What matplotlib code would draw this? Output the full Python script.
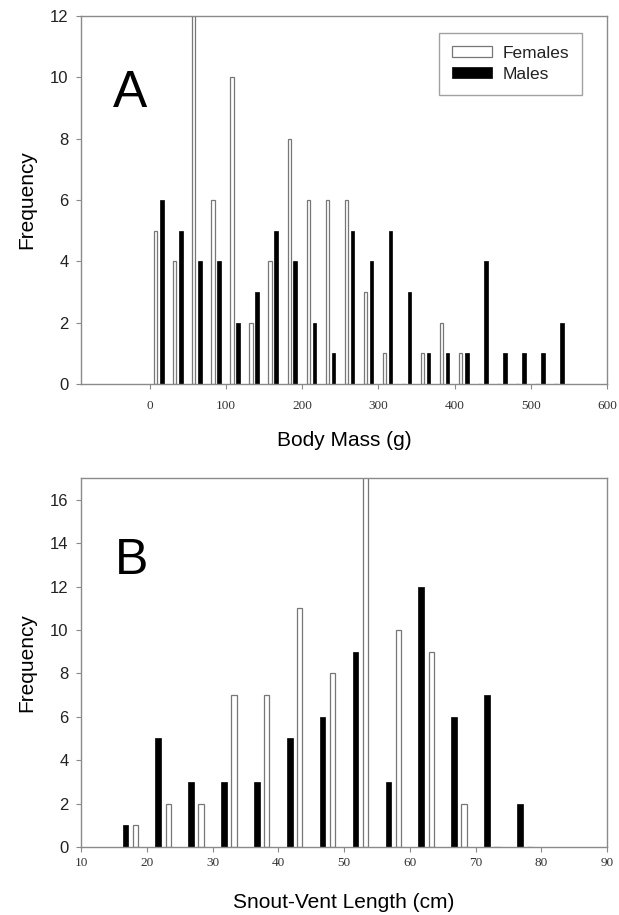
import numpy as np
import matplotlib
matplotlib.use("Agg")
import matplotlib.pyplot as plt

# =========================
# data
# =========================
mass_bins = np.arange(12.5, 550, 25)          # 25 g bins, centres
mass_females = [5, 4, 13, 6, 10, 2, 4, 8, 6, 6, 6, 3, 1, 0, 1, 2, 1, 0, 0, 0, 0, 0]
mass_males = [6, 5, 4, 4, 2, 3, 5, 4, 2, 1, 5, 4, 5, 3, 1, 1, 1, 4, 1, 1, 1, 2]

svl_bins = np.arange(17.5, 80, 5)             # 5 cm bins, centres
svl_females = [1, 2, 2, 7, 7, 11, 8, 18, 10, 9, 2, 0, 0]
svl_males = [1, 5, 3, 3, 3, 5, 6, 9, 3, 12, 6, 7, 2]

plt.rcParams['font.family'] = ['Liberation Sans', 'DejaVu Sans']
GRAY = "#8a8a8a"

fig = plt.figure(figsize=(6.19, 9.15), dpi=100)
axA = fig.add_axes([0.1309, 0.5803, 0.8498, 0.4022])
axB = fig.add_axes([0.1309, 0.0743, 0.8498, 0.4033])


def style_axis(ax, xpad):
    for sp in ax.spines.values():
        sp.set_color(GRAY)
        sp.set_linewidth(1.0)
    ax.tick_params(axis="both", direction="out", length=3.5, width=0.8, color=GRAY)
    ax.tick_params(axis="y", labelsize=12, labelcolor="#222222", pad=5.5)
    ax.tick_params(axis="x", pad=xpad)
    for lab in ax.get_xticklabels():
        lab.set_fontfamily("Liberation Serif")
        lab.set_fontsize(9.5)
        lab.set_color("#333333")


# --- panel A: body mass ---
axA.bar(mass_bins - 4.5, mass_females, width=4.2, color="white",
        edgecolor="#777777", linewidth=0.9, label="Females")
axA.bar(mass_bins + 3.5, mass_males, width=4.6, color="black",
        edgecolor="black", linewidth=0.5, label="Males")
axA.set_xlim(-90, 600)
axA.set_ylim(0, 12)
axA.set_xticks(np.arange(0, 601, 100))
axA.set_yticks(np.arange(0, 13, 2))
style_axis(axA, 8)
axA.set_xlabel("Body Mass (g)", fontsize=15, labelpad=14)
axA.set_ylabel("Frequency", fontsize=15, labelpad=10)
axA.text(0.061, 0.752, "A", transform=axA.transAxes, fontsize=37)
leg = axA.legend(loc="upper right", bbox_to_anchor=(0.952, 0.954), borderaxespad=0,
                 fontsize=12.5, fancybox=False, handlelength=2.3, handleheight=0.6,
                 handletextpad=0.6, borderpad=0.75, labelspacing=0.35)
leg.get_frame().set_edgecolor(GRAY)
leg.get_frame().set_linewidth(1.0)
for t in leg.get_texts():
    t.set_color("#222222")

# --- panel B: snout-vent length ---
axB.bar(svl_bins - 0.76, svl_males, width=0.85, color="black",
        edgecolor="black", linewidth=0.5)
axB.bar(svl_bins + 0.76, svl_females, width=0.8, color="white",
        edgecolor="#777777", linewidth=0.9)
axB.set_xlim(10, 90)
axB.set_ylim(0, 17)
axB.set_xticks(np.arange(10, 91, 10))
axB.set_yticks(np.arange(0, 17, 2))
style_axis(axB, 4)
axB.set_xlabel("Snout-Vent Length (cm)", fontsize=15, labelpad=17)
axB.set_ylabel("Frequency", fontsize=15, labelpad=10)
axB.text(0.065, 0.74, "B", transform=axB.transAxes, fontsize=36)

fig.savefig("out.png", dpi=100)
